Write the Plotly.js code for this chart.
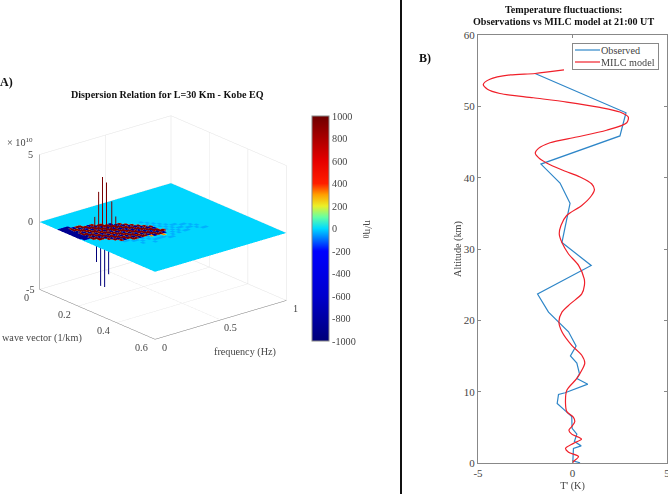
<!DOCTYPE html>
<html>
<head>
<meta charset="utf-8">
<script src="https://cdn.plot.ly/plotly-3.0.1.min.js"></script>
<style>html,body{margin:0;padding:0;background:#fff}#c{width:668px;height:494px}</style>
</head>
<body>
<div id="c"></div>
<script>
// --- Panel B data (T' in K, altitude in km)
const obsT  = [0.4,0.02,0.05,0.46,0.1,0.23,-0.02,-0.04,-0.33,-0.81,-0.74,-0.39,0.81,0.23,0.37,0.23,-0.11,0.19,-0.21,-0.74,-1.27,-1.85,0.99,-0.56,-0.13,-0.66,-1.67,2.51,2.83,-1.98];
const obsAlt= [0.03,0.3,2.05,2.4,3.0,4.05,4.85,6.5,7.2,8.35,9.6,9.85,11.05,11.85,12.5,14,15,16.4,18.4,19.8,21.15,23.7,27.7,30.9,36.4,39.25,41.9,45.85,49.1,54.6];
const milcT  = [0,0.05,0.32,-0.21,-0.37,0.05,0.48,-0.04,-0.19,-0.04,0.12,0.05,-0.3,-0.37,-0.3,0.23,0.49,0.65,0.49,-0.04,-0.56,-0.72,-0.56,-0.12,0.49,0.63,0.62,0.32,-0.21,-0.56,-0.7,-0.61,-0.31,0.49,1.01,1.16,1.01,0.4,-0.48,-1.37,-1.8,-1.97,-1.8,-1.19,0.22,1.8,2.87,2.95,2.51,1.45,-0.3,-2.07,-3.84,-4.5,-4.72,-4.37,-3.3,-1.98,-0.45];
const milcAlt= [0,0.2,0.9,1.5,2.05,2.75,3.35,4.05,4.6,5.1,5.8,6.4,7.2,8.35,10.2,11.85,13,14,15.1,16.5,18.4,19.8,21.15,22.3,23.7,24.9,25.8,27.7,29.3,30.9,32.1,33.3,34.7,36.1,37.5,38.35,39.15,40.1,41,42.05,42.8,43.45,44.1,44.9,45.7,46.65,47.7,48.5,49.2,49.85,50.6,51.2,51.8,52.4,53.07,53.8,54.4,54.6,55.1];
const seriesNames = ["Observed","MILC model"];
const xTicksB = [-5,0,5];
const yTicksB = [0,10,20,30,40,50,60];

// --- Panel A data
const kStep = 0.6/36, fStep = 1/44;
const kVals = [...Array(37).keys()].map(i => i*kStep);   // wave vector grid (1/km)
const fVals = [...Array(45).keys()].map(j => j*fStep);   // frequency grid (Hz)
// one string per frequency, one character per wave vector
const etaRows = [
"......NNNNNNN",
"......NNNNNNNN",
"......NNNNNNNN",
"......BRRBRRBRR",
".......BRRBRRBRR",
".......RBRRBRRBR",
".......RRBRRBRRBR",
"........RRBRRBRRBR",
"........BRRBRRBRRBRl",
"........RBRRBRRBRRBl",
".........RBRRBRRBRR.l",
".........RRBRRBRRBRRl.l",
"..........RRBRRBRRBR.l",
"..........BRRBRRBRRBl",
"...........BRRBRRBRR.l.l",
"...........RBRRBRRBRl.l",
"............RBRRBRRBo.l",
".............RBRRBRRB.l",
"..............RBRRBRR.l",
"...............RBRRBRo.l",
".............l.lRBRRB..l",
"..............l.l..R..l",
"...............l.l.l.l",
"................l.l.l.l",
".................l.l.l",
"..................l.l.l",
"..................l.l.l",
"...................l.l",
"...................l.l",
"....................l.l",
".....................l.l",
".......................l"
];
const etaLevels = {".":0,"l":-35,"o":320,"R":950,"B":-950,"N":-880};
const spikeK = [0.180,0.189,0.197,0.206,0.218,0.227,0.184,0.193,0.202,0.211];
const spikeF = [0.156,0.173,0.190,0.208,0.230,0.247,0.164,0.182,0.199,0.217];
const spikeZ = [1.04,2.9,4.0,3.6,2.2,1.1,-2.3,-4.07,-4.15,-3.2];
const kTicks = [0,0.2,0.4,0.6];
const fTicks = [0,0.5,1];
const zTicks = [-5,0,5];
const cbTicks = [-1000,-800,-600,-400,-200,0,200,400,600,800,1000];
const cmap = [[0,"rgb(0,0,120)"],[0.2,"rgb(0,0,205)"],[0.4,"rgb(0,0,255)"],[0.45,"rgb(0,110,255)"],[0.5,"rgb(0,218,255)"],[0.55,"rgb(100,255,165)"],[0.6,"rgb(235,240,40)"],[0.65,"rgb(255,160,0)"],[0.7,"rgb(255,30,0)"],[0.8,"rgb(230,0,0)"],[1,"rgb(110,0,0)"]];

const serif = "Liberation Serif, Times New Roman, serif";
const grey = "#444";
const W=668, H=494, FS=10.2, FSB=11;

// each sample is held over most of its cell so that neighbouring cells keep their own colour
const edge = 0.36;
function doubled(vals,step,lo,hi){ return vals.flatMap(v=>[Math.max(lo,v-edge*step),Math.min(hi,v+edge*step)]); }
const kGrid = doubled(kVals,kStep,0,0.6);
const fGrid = doubled(fVals,fStep,0,1);
const zGrid = fGrid.map(() => kGrid.map(() => 0));
const cGrid = fGrid.map((_, jj) => kGrid.map((_, ii) => {
  const row = etaRows[jj>>1] || "";
  return etaLevels[row[ii>>1] || "."];
}));

const surface = {
  type:"surface", x:kGrid, y:fGrid, z:zGrid, surfacecolor:cGrid,
  cmin:-1000, cmax:1000, colorscale:cmap, hoverinfo:"skip",
  lighting:{ambient:1,diffuse:0,specular:0,roughness:1,fresnel:0},
  contours:{x:{show:false},y:{show:false},z:{show:false}},
  colorbar:{x:312/W,xanchor:"left",y:(H-228.5)/H,yanchor:"middle",len:225/H,lenmode:"fraction",
    thickness:17,xpad:0,ypad:0,outlinecolor:"#888",outlinewidth:1,tickvals:cbTicks,ticktext:cbTicks.map(String),ticks:"",
    ticklabelposition:"outside",tickfont:{family:serif,size:FS,color:grey}}
};
function spikes(sel,color){
  const x=[],y=[],z=[];
  spikeZ.forEach((v,i)=>{ if(sel(v)){x.push(spikeK[i],spikeK[i],null);y.push(spikeF[i],spikeF[i],null);z.push(0,v,null);} });
  return {type:"scatter3d",mode:"lines",x,y,z,line:{color,width:2},hoverinfo:"skip",showlegend:false};
}
const obs = {type:"scatter",mode:"lines",x:obsT,y:obsAlt,name:seriesNames[0],line:{color:"#2e86c8",width:1.2},xaxis:"x",yaxis:"y"};
const milc = {type:"scatter",mode:"lines",x:milcT,y:milcAlt,name:seriesNames[1],line:{color:"#f0202a",width:1.2,shape:"spline",smoothing:0.8},xaxis:"x",yaxis:"y"};

function ann(x,y,z,text,xs,ys){return {x,y,z,text,showarrow:false,xshift:xs,yshift:ys,font:{family:serif,size:FS,color:grey}};}
const sceneAnn = []
  .concat(kTicks.map(v=>ann(v,0,-5,String(v),-14,-8)))
  .concat(fTicks.map(v=>ann(0.6,v,-5,String(v),9,-8)))
  .concat(zTicks.map(v=>ann(0,0,v,String(v),-10,0)));
function paperText(x,y,text,size,bold,extra){
  return Object.assign({xref:"paper",yref:"paper",x:x/W,y:(H-y)/H,text:bold?"<b>"+text+"</b>":text,showarrow:false,
    xanchor:"center",yanchor:"middle",font:{family:serif,size,color:bold?"#111":grey}},extra||{});
}
const axisB = {showgrid:false,zeroline:false,showline:true,linecolor:"#888",linewidth:1,mirror:"ticks",ticks:"inside",ticklen:3,tickcolor:"#888",ticklabeloverflow:"allow",
  tickfont:{family:serif,size:FSB,color:grey}};
const layout = {
  width:W,height:H,margin:{l:0,r:0,t:0,b:0,autoexpand:false},paper_bgcolor:"#fff",plot_bgcolor:"#fff",showlegend:true,
  xaxis:Object.assign({},axisB,{domain:[478/W,667/W],range:[-5,5],tickvals:xTicksB,ticktext:xTicksB.map(String),title:{text:"T' (K)",font:{family:serif,size:FS,color:grey},standoff:3}}),
  yaxis:Object.assign({},axisB,{domain:[(H-463)/H,(H-35)/H],range:[0,60],tickvals:yTicksB,ticktext:yTicksB.map(String),title:{text:"Altitude (km)",font:{family:serif,size:FS,color:grey},standoff:0}}),
  legend:{x:572/W,y:(H-43)/H,xanchor:"left",yanchor:"top",bgcolor:"#fff",bordercolor:"#888",borderwidth:1,font:{family:serif,size:FS,color:grey},tracegroupgap:0,itemwidth:30},
  scene:{domain:{x:[0.0097,0.4797],y:[0.2146,0.8646]},
    aspectmode:"manual",aspectratio:{x:1.128,y:1.0625,z:0.9},
    camera:{projection:{type:"orthographic"},eye:{x:0.95,y:-0.786,z:0.472},center:{x:0,y:0,z:0},up:{x:0,y:0,z:1}},
    xaxis:{range:[0,0.6],tickvals:kTicks,showticklabels:false,title:{text:""},showbackground:false,gridcolor:"#e2e2e2",showline:true,linecolor:"#777",zeroline:false,showspikes:false},
    yaxis:{range:[0,1],tickvals:fTicks,showticklabels:false,title:{text:""},showbackground:false,gridcolor:"#e2e2e2",showline:true,linecolor:"#777",zeroline:false,showspikes:false},
    zaxis:{range:[-5,5],tickvals:zTicks,showticklabels:false,title:{text:""},showbackground:false,gridcolor:"#e2e2e2",showline:true,linecolor:"#777",zeroline:false,showspikes:false},
    annotations:sceneAnn},
  shapes:[{type:"line",xref:"paper",yref:"paper",x0:401/W,x1:401/W,y0:0,y1:1,line:{color:"#111",width:2}}],
  annotations:[
    paperText(6,82,"A)",12,true),
    paperText(167,95,"Dispersion Relation for L=30 Km - Kobe EQ",10.1,true),
    paperText(425,58,"B)",12,true),
    paperText(563,10,"Temperature fluctuactions:",10.1,true),
    paperText(563,22,"Observations vs MILC model at 21:00 UT",10.1,true),
    paperText(20,142,"× 10<sup>10</sup>",FS,false),
    paperText(42,338,"wave vector (1/km)",FS,false),
    paperText(245,352,"frequency (Hz)",FS,false),
    paperText(368,229,"η/η<sub>0</sub>",11,false,{textangle:90})
  ]
};
Plotly.newPlot("c",[surface,spikes(v=>v>0,"#7a0000"),spikes(v=>v<0,"#00007a"),obs,milc],layout,{displayModeBar:false}).then(gd=>{
  // tighten the legend to the compact row and key sizes of the reference
  const boxW=86, boxH=26, rows=[7,19];
  gd.querySelectorAll(".legend .bg").forEach(r=>{r.setAttribute("width",boxW);r.setAttribute("height",boxH);});
  gd.querySelectorAll(".legend .traces").forEach((t,i)=>t.setAttribute("transform","translate(0,"+rows[i]+")"));
  gd.querySelectorAll(".legend .legendlines path").forEach(p=>p.setAttribute("d","M3,0h25"));
  gd.querySelectorAll(".legend .legendtext").forEach(t=>t.setAttribute("x",29));
  gd.querySelectorAll(".legend .legendtoggle").forEach(t=>t.setAttribute("width",boxW));
});
</script>
</body>
</html>
